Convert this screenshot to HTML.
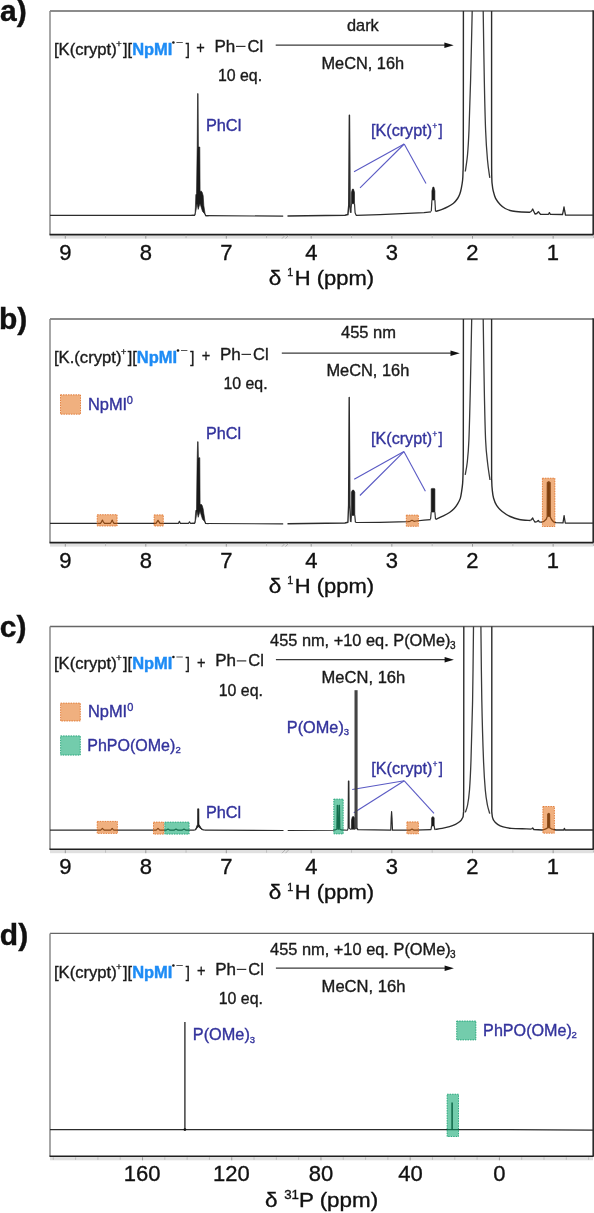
<!DOCTYPE html>
<html><head><meta charset="utf-8"><style>
html,body{margin:0;padding:0;background:#fff;width:594px;height:1213px;overflow:hidden}
svg{display:block;will-change:transform;filter:blur(0.4px)}
text{font-family:"Liberation Sans", sans-serif}
</style></head><body>
<svg width="594" height="1213" viewBox="0 0 594 1213">
<rect width="594" height="1213" fill="#fff"/>
<text x="0.10" y="20.80" font-size="30" fill="#111" font-weight="bold" stroke="#111" stroke-width="0.4">a)</text>
<line x1="50.00" y1="11.00" x2="593.00" y2="11.00" stroke="#666" stroke-width="1.4" />
<line x1="50.00" y1="11.00" x2="50.00" y2="234.60" stroke="#8a8a8a" stroke-width="1.5" />
<line x1="593.30" y1="10.30" x2="593.30" y2="234.60" stroke="#2a2a2a" stroke-width="1.8" />
<rect x="50" y="235.40" width="543" height="3.2" fill="#e0e0e0"/>
<line x1="49.50" y1="234.60" x2="593.70" y2="234.60" stroke="#1f1f1f" stroke-width="1.6" />
<line x1="65.30" y1="235.60" x2="65.30" y2="238.60" stroke="#999" stroke-width="1" />
<line x1="145.80" y1="235.60" x2="145.80" y2="238.60" stroke="#999" stroke-width="1" />
<line x1="226.30" y1="235.60" x2="226.30" y2="238.60" stroke="#999" stroke-width="1" />
<line x1="311.20" y1="235.60" x2="311.20" y2="238.60" stroke="#999" stroke-width="1" />
<line x1="391.85" y1="235.60" x2="391.85" y2="238.60" stroke="#999" stroke-width="1" />
<line x1="472.50" y1="235.60" x2="472.50" y2="238.60" stroke="#999" stroke-width="1" />
<line x1="553.15" y1="235.60" x2="553.15" y2="238.60" stroke="#999" stroke-width="1" />
<line x1="105.55" y1="235.60" x2="105.55" y2="238.10" stroke="#b8b8b8" stroke-width="0.9" />
<line x1="186.05" y1="235.60" x2="186.05" y2="238.10" stroke="#b8b8b8" stroke-width="0.9" />
<line x1="266.55" y1="235.60" x2="266.55" y2="238.10" stroke="#b8b8b8" stroke-width="0.9" />
<line x1="351.52" y1="235.60" x2="351.52" y2="238.10" stroke="#b8b8b8" stroke-width="0.9" />
<line x1="432.18" y1="235.60" x2="432.18" y2="238.10" stroke="#b8b8b8" stroke-width="0.9" />
<line x1="512.83" y1="235.60" x2="512.83" y2="238.10" stroke="#b8b8b8" stroke-width="0.9" />
<line x1="593.48" y1="235.60" x2="593.48" y2="238.10" stroke="#b8b8b8" stroke-width="0.9" />
<line x1="282.00" y1="238.60" x2="285.00" y2="235.40" stroke="#aaa" stroke-width="0.9" />
<line x1="285.50" y1="238.60" x2="288.50" y2="235.40" stroke="#aaa" stroke-width="0.9" />
<text x="59.14" y="259.60" font-size="22" fill="#111" stroke="#111" stroke-width="0.35">9</text>
<text x="139.75" y="259.60" font-size="22" fill="#111" stroke="#111" stroke-width="0.35">8</text>
<text x="220.14" y="259.60" font-size="22" fill="#111" stroke="#111" stroke-width="0.35">7</text>
<text x="305.15" y="259.60" font-size="22" fill="#111" stroke="#111" stroke-width="0.35">4</text>
<text x="385.80" y="259.60" font-size="22" fill="#111" stroke="#111" stroke-width="0.35">3</text>
<text x="466.34" y="259.60" font-size="22" fill="#111" stroke="#111" stroke-width="0.35">2</text>
<text x="546.66" y="259.60" font-size="22" fill="#111" stroke="#111" stroke-width="0.35">1</text>
<text transform="translate(268.70,284.60) scale(1.1566,1)" font-size="19.5" fill="#111" stroke="#111" stroke-width="0.35">δ</text>
<text transform="translate(287.34,276.10) scale(0.9725,1)" font-size="11" fill="#111" stroke="#111" stroke-width="0.35">1</text>
<text transform="translate(294.74,284.60) scale(1.1261,1)" font-size="19.5" fill="#111" stroke="#111" stroke-width="0.35">H (ppm)</text>
<text transform="translate(53.94,54.70) scale(1.0394,1)" font-size="16" fill="#1a1a1a" stroke="#1a1a1a" stroke-width="0.35">[K(crypt)</text>
<text transform="translate(116.34,46.91) scale(0.9649,1)" font-size="9.5" fill="#1a1a1a" stroke="#1a1a1a" stroke-width="0.35">+</text>
<text transform="translate(123.04,54.70) scale(1.0185,1)" font-size="16" fill="#1a1a1a" stroke="#1a1a1a" stroke-width="0.35">][</text>
<text transform="translate(132.15,54.70) scale(1.0308,1)" font-size="16" fill="#1e8cf5" font-weight="bold" stroke="#1e8cf5" stroke-width="0.4">NpMI</text>
<circle cx="173.40" cy="42.50" r="1.3" fill="#1a1a1a"/>
<line x1="176.40" y1="42.50" x2="182.80" y2="42.50" stroke="#555" stroke-width="1.0" />
<text transform="translate(185.75,54.70) scale(0.9375,1)" font-size="16" fill="#1a1a1a" stroke="#1a1a1a" stroke-width="0.35">]</text>
<text transform="translate(196.27,53.30) scale(0.9115,1)" font-size="16" fill="#1a1a1a" stroke="#1a1a1a" stroke-width="0.35">+</text>
<text transform="translate(214.44,51.90) scale(1.0648,1)" font-size="16" fill="#1a1a1a" stroke="#1a1a1a" stroke-width="0.35">Ph</text>
<line x1="236.00" y1="46.40" x2="245.50" y2="46.40" stroke="#333" stroke-width="1.2" />
<text transform="translate(247.47,51.90) scale(1.0316,1)" font-size="16" fill="#1a1a1a" stroke="#1a1a1a" stroke-width="0.35">Cl</text>
<text transform="translate(217.93,81.30) scale(0.9938,1)" font-size="16" fill="#1a1a1a" stroke="#1a1a1a" stroke-width="0.35">10 eq.</text>
<line x1="275.70" y1="45.20" x2="445.70" y2="45.20" stroke="#3a3a3a" stroke-width="1.3" />
<path d="M453.70,45.20 L444.40,42.50 L444.40,47.90 Z" fill="#111"/>
<text transform="translate(347.05,31.20) scale(1.0197,1)" font-size="16" fill="#1a1a1a" stroke="#1a1a1a" stroke-width="0.35">dark</text>
<text transform="translate(321.49,68.70) scale(1.0209,1)" font-size="16" fill="#1a1a1a" stroke="#1a1a1a" stroke-width="0.35">MeCN, 16h</text>
<text transform="translate(205.89,131.00) scale(1.0210,1)" font-size="16" fill="#33339c" stroke="#33339c" stroke-width="0.35">PhCl</text>
<text transform="translate(370.97,136.20) scale(1.0120,1)" font-size="16" fill="#33339c" stroke="#33339c" stroke-width="0.35">[K(crypt)</text>
<text transform="translate(432.40,128.83) scale(0.9314,1)" font-size="8.5" fill="#33339c" stroke="#33339c" stroke-width="0.35">+</text>
<text transform="translate(438.55,136.20) scale(0.9375,1)" font-size="16" fill="#33339c" stroke="#33339c" stroke-width="0.35">]</text>
<line x1="404.20" y1="144.00" x2="354.00" y2="171.80" stroke="#5a5ac4" stroke-width="1.1" />
<line x1="404.20" y1="144.00" x2="360.00" y2="187.80" stroke="#5a5ac4" stroke-width="1.1" />
<line x1="404.20" y1="144.00" x2="426.00" y2="183.50" stroke="#5a5ac4" stroke-width="1.1" />
<polyline points="50.00,215.40 194.60,215.40" fill="none" stroke="#2c2c2c" stroke-width="1.2" stroke-linejoin="round" />
<polygon points="195.00,214.40 195.40,207.40 195.80,194.80 196.50,193.80 197.10,151.00 197.20,147.00 197.60,93.60 198.10,93.60 198.40,147.00 199.80,147.00 200.10,191.80 201.00,190.80 202.20,192.30 203.20,195.80 203.80,205.40 205.20,214.40 202.50,211.40 200.00,203.40 198.20,209.40 197.00,203.40 196.00,210.40" fill="#1a1a1a" stroke="#1a1a1a" stroke-width="0.6" stroke-linejoin="round"/>
<polyline points="191.60,215.40 194.60,215.40 195.20,213.90" fill="none" stroke="#2c2c2c" stroke-width="1.2" stroke-linejoin="round" />
<polyline points="205.00,213.90 205.60,215.60 208.60,215.70" fill="none" stroke="#2c2c2c" stroke-width="1.2" stroke-linejoin="round" />
<polyline points="205.60,215.60 283.20,216.20" fill="none" stroke="#2c2c2c" stroke-width="1.2" stroke-linejoin="round" />
<polyline points="287.50,216.00 345.00,215.30 347.90,214.60 348.80,205.00 349.40,115.30 350.00,205.00 350.60,212.50" fill="none" stroke="#2c2c2c" stroke-width="1.5" stroke-linejoin="round" />
<polygon points="351.40,203.70 351.40,192.50 352.45,189.10 353.45,189.10 354.50,192.50 354.50,203.70" fill="#1a1a1a" stroke="#1a1a1a" stroke-width="0.6" stroke-linejoin="round"/>
<polyline points="350.80,213.00 351.40,203.70" fill="none" stroke="#333" stroke-width="1.2" stroke-linejoin="round" />
<polyline points="355.10,213.00 354.50,203.70" fill="none" stroke="#333" stroke-width="1.2" stroke-linejoin="round" />
<polyline points="355.10,213.00 356.20,215.30 380.00,214.60 424.00,212.60 431.00,211.80" fill="none" stroke="#2c2c2c" stroke-width="1.2" stroke-linejoin="round" />
<polygon points="431.90,200.10 431.90,190.90 432.90,187.10 433.90,187.10 434.90,190.90 434.90,200.10" fill="#1a1a1a" stroke="#1a1a1a" stroke-width="0.6" stroke-linejoin="round"/>
<polyline points="431.30,211.40 431.90,200.10" fill="none" stroke="#333" stroke-width="1.2" stroke-linejoin="round" />
<polyline points="435.50,211.40 434.90,200.10" fill="none" stroke="#333" stroke-width="1.2" stroke-linejoin="round" />
<polyline points="435.50,211.40 436.00,211.30" fill="none" stroke="#2c2c2c" stroke-width="1.3" stroke-linejoin="round" />
<path d="M436.00,211.30 C437.02,210.97 440.08,210.08 442.10,209.30 C444.12,208.52 446.20,207.62 448.10,206.60 C450.00,205.58 451.92,204.55 453.50,203.20 C455.08,201.85 456.53,200.07 457.60,198.50 C458.67,196.93 459.28,195.48 459.90,193.80 C460.52,192.12 460.85,190.65 461.30,188.40 C461.75,186.15 462.32,183.00 462.60,180.30 C462.88,177.60 462.88,177.25 463.00,172.20 C463.12,167.15 463.23,176.87 463.30,150.00 C463.37,123.13 463.38,34.17 463.40,11.00" fill="none" stroke="#2c2c2c" stroke-width="1.4" stroke-linejoin="round"/>
<path d="M472.20,11.00 C471.93,22.50 471.13,60.17 470.60,80.00 C470.07,99.83 469.52,117.50 469.00,130.00 C468.48,142.50 468.12,148.08 467.50,155.00 C466.88,161.92 465.67,168.75 465.30,171.50" fill="none" stroke="#3a3a3a" stroke-width="1.3" stroke-linejoin="round"/>
<path d="M483.20,11.00 C483.38,22.50 483.90,60.17 484.30,80.00 C484.70,99.83 485.07,116.67 485.60,130.00 C486.13,143.33 486.80,152.03 487.50,160.00 C488.20,167.97 489.42,174.83 489.80,177.80" fill="none" stroke="#3a3a3a" stroke-width="1.3" stroke-linejoin="round"/>
<path d="M491.60,11.00 C491.60,34.17 491.57,122.17 491.60,150.00 C491.63,177.83 491.68,172.17 491.80,178.00 C491.92,183.83 492.08,182.95 492.30,185.00 C492.52,187.05 492.55,188.07 493.10,190.30 C493.65,192.53 494.43,196.05 495.60,198.40 C496.77,200.75 498.50,202.72 500.10,204.40 C501.70,206.08 503.17,207.40 505.20,208.50 C507.23,209.60 509.60,210.42 512.30,211.00 C515.00,211.58 518.38,211.80 521.40,212.00 C524.42,212.20 528.90,212.17 530.40,212.20" fill="none" stroke="#2c2c2c" stroke-width="1.4" stroke-linejoin="round"/>
<polyline points="530.40,212.20 531.60,210.80 532.70,209.00 533.60,211.00 535.00,214.00 536.80,213.50 537.70,212.30 538.50,211.70 539.30,213.00 540.50,214.30 548.50,214.30 549.40,212.60 550.30,214.30 562.50,214.50 563.40,210.50 564.00,206.90 564.60,210.50 565.50,215.00 593.00,215.10" fill="none" stroke="#2c2c2c" stroke-width="1.3" stroke-linejoin="round" />
<text x="-1.10" y="328.90" font-size="30" fill="#111" font-weight="bold" stroke="#111" stroke-width="0.4">b)</text>
<line x1="50.00" y1="319.00" x2="593.00" y2="319.00" stroke="#666" stroke-width="1.4" />
<line x1="50.00" y1="319.00" x2="50.00" y2="542.60" stroke="#8a8a8a" stroke-width="1.5" />
<line x1="593.30" y1="318.30" x2="593.30" y2="542.60" stroke="#2a2a2a" stroke-width="1.8" />
<rect x="50" y="543.40" width="543" height="3.2" fill="#e0e0e0"/>
<line x1="49.50" y1="542.60" x2="593.70" y2="542.60" stroke="#1f1f1f" stroke-width="1.6" />
<line x1="65.30" y1="543.60" x2="65.30" y2="546.60" stroke="#999" stroke-width="1" />
<line x1="145.80" y1="543.60" x2="145.80" y2="546.60" stroke="#999" stroke-width="1" />
<line x1="226.30" y1="543.60" x2="226.30" y2="546.60" stroke="#999" stroke-width="1" />
<line x1="311.20" y1="543.60" x2="311.20" y2="546.60" stroke="#999" stroke-width="1" />
<line x1="391.85" y1="543.60" x2="391.85" y2="546.60" stroke="#999" stroke-width="1" />
<line x1="472.50" y1="543.60" x2="472.50" y2="546.60" stroke="#999" stroke-width="1" />
<line x1="553.15" y1="543.60" x2="553.15" y2="546.60" stroke="#999" stroke-width="1" />
<line x1="105.55" y1="543.60" x2="105.55" y2="546.10" stroke="#b8b8b8" stroke-width="0.9" />
<line x1="186.05" y1="543.60" x2="186.05" y2="546.10" stroke="#b8b8b8" stroke-width="0.9" />
<line x1="266.55" y1="543.60" x2="266.55" y2="546.10" stroke="#b8b8b8" stroke-width="0.9" />
<line x1="351.52" y1="543.60" x2="351.52" y2="546.10" stroke="#b8b8b8" stroke-width="0.9" />
<line x1="432.18" y1="543.60" x2="432.18" y2="546.10" stroke="#b8b8b8" stroke-width="0.9" />
<line x1="512.83" y1="543.60" x2="512.83" y2="546.10" stroke="#b8b8b8" stroke-width="0.9" />
<line x1="593.48" y1="543.60" x2="593.48" y2="546.10" stroke="#b8b8b8" stroke-width="0.9" />
<line x1="282.00" y1="546.60" x2="285.00" y2="543.40" stroke="#aaa" stroke-width="0.9" />
<line x1="285.50" y1="546.60" x2="288.50" y2="543.40" stroke="#aaa" stroke-width="0.9" />
<text x="59.14" y="567.60" font-size="22" fill="#111" stroke="#111" stroke-width="0.35">9</text>
<text x="139.75" y="567.60" font-size="22" fill="#111" stroke="#111" stroke-width="0.35">8</text>
<text x="220.14" y="567.60" font-size="22" fill="#111" stroke="#111" stroke-width="0.35">7</text>
<text x="305.15" y="567.60" font-size="22" fill="#111" stroke="#111" stroke-width="0.35">4</text>
<text x="385.80" y="567.60" font-size="22" fill="#111" stroke="#111" stroke-width="0.35">3</text>
<text x="466.34" y="567.60" font-size="22" fill="#111" stroke="#111" stroke-width="0.35">2</text>
<text x="546.66" y="567.60" font-size="22" fill="#111" stroke="#111" stroke-width="0.35">1</text>
<text transform="translate(268.70,592.60) scale(1.1566,1)" font-size="19.5" fill="#111" stroke="#111" stroke-width="0.35">δ</text>
<text transform="translate(287.34,584.10) scale(0.9725,1)" font-size="11" fill="#111" stroke="#111" stroke-width="0.35">1</text>
<text transform="translate(294.74,592.60) scale(1.1261,1)" font-size="19.5" fill="#111" stroke="#111" stroke-width="0.35">H (ppm)</text>
<text transform="translate(53.93,362.70) scale(1.0411,1)" font-size="16" fill="#1a1a1a" stroke="#1a1a1a" stroke-width="0.35">[K.(crypt)</text>
<text transform="translate(120.94,354.91) scale(0.9649,1)" font-size="9.5" fill="#1a1a1a" stroke="#1a1a1a" stroke-width="0.35">+</text>
<text transform="translate(127.64,362.70) scale(1.0185,1)" font-size="16" fill="#1a1a1a" stroke="#1a1a1a" stroke-width="0.35">][</text>
<text transform="translate(136.75,362.70) scale(1.0308,1)" font-size="16" fill="#1e8cf5" font-weight="bold" stroke="#1e8cf5" stroke-width="0.4">NpMI</text>
<circle cx="178.00" cy="350.50" r="1.3" fill="#1a1a1a"/>
<line x1="181.00" y1="350.50" x2="187.40" y2="350.50" stroke="#555" stroke-width="1.0" />
<text transform="translate(190.35,362.70) scale(0.9375,1)" font-size="16" fill="#1a1a1a" stroke="#1a1a1a" stroke-width="0.35">]</text>
<text transform="translate(201.77,361.30) scale(0.9115,1)" font-size="16" fill="#1a1a1a" stroke="#1a1a1a" stroke-width="0.35">+</text>
<text transform="translate(219.94,359.90) scale(1.0648,1)" font-size="16" fill="#1a1a1a" stroke="#1a1a1a" stroke-width="0.35">Ph</text>
<line x1="241.50" y1="354.40" x2="251.00" y2="354.40" stroke="#333" stroke-width="1.2" />
<text transform="translate(252.97,359.90) scale(1.0316,1)" font-size="16" fill="#1a1a1a" stroke="#1a1a1a" stroke-width="0.35">Cl</text>
<text transform="translate(223.43,389.30) scale(0.9938,1)" font-size="16" fill="#1a1a1a" stroke="#1a1a1a" stroke-width="0.35">10 eq.</text>
<line x1="281.80" y1="353.20" x2="451.80" y2="353.20" stroke="#3a3a3a" stroke-width="1.3" />
<path d="M459.80,353.20 L450.50,350.50 L450.50,355.90 Z" fill="#111"/>
<text transform="translate(340.97,337.70) scale(1.0327,1)" font-size="16" fill="#1a1a1a" stroke="#1a1a1a" stroke-width="0.35">455 nm</text>
<text transform="translate(326.39,376.30) scale(1.0260,1)" font-size="16" fill="#1a1a1a" stroke="#1a1a1a" stroke-width="0.35">MeCN, 16h</text>
<text transform="translate(87.88,410.00) scale(1.0276,1)" font-size="16" fill="#33339c" stroke="#33339c" stroke-width="0.35">NpMI</text>
<text x="126.66" y="404.10" font-size="11" fill="#33339c" stroke="#33339c" stroke-width="0.35">0</text>
<text transform="translate(206.00,438.70) scale(1.0118,1)" font-size="16" fill="#33339c" stroke="#33339c" stroke-width="0.35">PhCl</text>
<text transform="translate(370.97,444.20) scale(1.0120,1)" font-size="16" fill="#33339c" stroke="#33339c" stroke-width="0.35">[K(crypt)</text>
<text transform="translate(432.40,436.83) scale(0.9314,1)" font-size="8.5" fill="#33339c" stroke="#33339c" stroke-width="0.35">+</text>
<text transform="translate(438.55,444.20) scale(0.9375,1)" font-size="16" fill="#33339c" stroke="#33339c" stroke-width="0.35">]</text>
<line x1="403.90" y1="451.60" x2="354.20" y2="479.30" stroke="#5a5ac4" stroke-width="1.1" />
<line x1="403.90" y1="451.60" x2="359.90" y2="495.50" stroke="#5a5ac4" stroke-width="1.1" />
<line x1="403.90" y1="451.60" x2="425.40" y2="491.20" stroke="#5a5ac4" stroke-width="1.1" />
<polyline points="50.00,523.30 100.50,523.30 101.50,521.80 102.40,520.10 103.30,521.80 104.50,523.30 110.50,523.30 111.40,521.80 112.20,520.10 113.00,521.80 114.00,523.30 156.00,523.30 157.00,521.80 158.00,520.30 159.00,521.80 160.00,523.30 178.50,523.30 179.40,521.30 180.30,523.30 188.60,523.30 189.50,521.80 190.40,523.30 194.60,523.30" fill="none" stroke="#2c2c2c" stroke-width="1.2" stroke-linejoin="round" />
<polygon points="195.00,522.30 195.40,515.30 195.80,510.50 196.50,509.50 197.10,461.70 197.20,457.70 197.60,441.70 198.10,441.70 198.40,457.70 199.80,457.70 200.10,505.00 201.00,504.00 202.20,505.50 203.20,509.00 203.80,513.30 205.20,522.30 202.50,519.30 200.00,511.30 198.20,517.30 197.00,511.30 196.00,518.30" fill="#1a1a1a" stroke="#1a1a1a" stroke-width="0.6" stroke-linejoin="round"/>
<polyline points="191.60,523.30 194.60,523.30 195.20,521.80" fill="none" stroke="#2c2c2c" stroke-width="1.2" stroke-linejoin="round" />
<polyline points="205.00,521.80 205.60,523.50 208.60,523.60" fill="none" stroke="#2c2c2c" stroke-width="1.2" stroke-linejoin="round" />
<polyline points="205.60,523.50 283.20,523.90" fill="none" stroke="#2c2c2c" stroke-width="1.2" stroke-linejoin="round" />
<polyline points="287.50,523.80 345.00,523.00 347.90,522.30 348.60,505.00 349.20,397.40 349.80,505.00 350.60,521.80" fill="none" stroke="#2c2c2c" stroke-width="1.4" stroke-linejoin="round" />
<polygon points="351.40,515.40 351.40,492.10 352.60,490.00 353.60,490.00 354.80,492.10 354.80,515.40" fill="#1a1a1a" stroke="#1a1a1a" stroke-width="0.6" stroke-linejoin="round"/>
<polyline points="350.80,522.10 351.40,515.40" fill="none" stroke="#333" stroke-width="1.2" stroke-linejoin="round" />
<polyline points="355.40,522.10 354.80,515.40" fill="none" stroke="#333" stroke-width="1.2" stroke-linejoin="round" />
<polyline points="355.40,522.10 356.20,522.50 380.00,522.30 408.00,521.60 410.00,521.30 412.00,520.30 414.00,521.30 416.00,521.00 424.00,520.20 430.70,519.60" fill="none" stroke="#2c2c2c" stroke-width="1.2" stroke-linejoin="round" />
<polygon points="431.20,512.10 431.20,488.80 432.55,488.40 433.55,488.40 434.90,488.80 434.90,512.10" fill="#1a1a1a" stroke="#1a1a1a" stroke-width="0.6" stroke-linejoin="round"/>
<polyline points="430.60,519.00 431.20,512.10" fill="none" stroke="#333" stroke-width="1.2" stroke-linejoin="round" />
<polyline points="435.50,519.00 434.90,512.10" fill="none" stroke="#333" stroke-width="1.2" stroke-linejoin="round" />
<polyline points="435.40,519.30 435.80,519.30" fill="none" stroke="#2c2c2c" stroke-width="1.3" stroke-linejoin="round" />
<path d="M435.80,519.30 C437.07,518.73 441.12,517.03 443.40,515.90 C445.68,514.77 447.70,513.73 449.50,512.50 C451.30,511.27 452.85,509.95 454.20,508.50 C455.55,507.05 456.58,505.48 457.60,503.80 C458.62,502.12 459.63,500.43 460.30,498.40 C460.97,496.37 461.22,494.07 461.60,491.60 C461.98,489.13 462.37,486.40 462.60,483.60 C462.83,480.80 462.88,480.40 463.00,474.80 C463.12,469.20 463.23,475.97 463.30,450.00 C463.37,424.03 463.38,340.83 463.40,319.00" fill="none" stroke="#2c2c2c" stroke-width="1.4" stroke-linejoin="round"/>
<path d="M471.70,319.00 C471.47,330.83 470.77,369.83 470.30,390.00 C469.83,410.17 469.40,428.00 468.90,440.00 C468.40,452.00 467.92,456.18 467.30,462.00 C466.68,467.82 465.55,472.75 465.20,474.90" fill="none" stroke="#3a3a3a" stroke-width="1.3" stroke-linejoin="round"/>
<path d="M483.20,319.00 C483.38,330.83 483.90,369.83 484.30,390.00 C484.70,410.17 485.05,427.83 485.60,440.00 C486.15,452.17 486.87,456.33 487.60,463.00 C488.33,469.67 489.60,477.17 490.00,480.00" fill="none" stroke="#3a3a3a" stroke-width="1.3" stroke-linejoin="round"/>
<path d="M491.60,319.00 C491.60,342.50 491.58,433.13 491.60,460.00 C491.62,486.87 491.58,475.15 491.70,480.20 C491.82,485.25 491.98,487.28 492.30,490.30 C492.62,493.32 492.88,495.78 493.60,498.30 C494.32,500.82 495.17,503.20 496.60,505.40 C498.03,507.60 499.93,509.65 502.20,511.50 C504.47,513.35 507.35,515.17 510.20,516.50 C513.05,517.83 515.93,518.83 519.30,519.50 C522.67,520.17 528.55,520.33 530.40,520.50" fill="none" stroke="#2c2c2c" stroke-width="1.4" stroke-linejoin="round"/>
<polygon points="547.30,516.50 547.40,482.50 548.70,481.90 550.00,482.50 550.10,516.50" fill="#1a1a1a" stroke="#1a1a1a" stroke-width="0.6" stroke-linejoin="round"/>
<polyline points="530.40,520.50 531.60,519.50 532.70,518.00 533.60,520.00 535.00,522.10 537.00,521.60 538.30,520.40 539.30,521.80 541.50,522.20 544.00,521.30 546.20,519.30 547.30,516.50 547.40,482.50 548.70,481.90 550.00,482.50 550.10,516.50 551.50,519.50 553.50,521.80 556.00,522.60 563.00,522.80 563.60,519.00 564.10,515.60 564.60,519.00 565.30,523.00 593.00,523.20" fill="none" stroke="#2c2c2c" stroke-width="1.3" stroke-linejoin="round" />
<text x="-0.20" y="636.90" font-size="30" fill="#111" font-weight="bold" stroke="#111" stroke-width="0.4">c)</text>
<line x1="50.00" y1="626.50" x2="593.00" y2="626.50" stroke="#666" stroke-width="1.4" />
<line x1="50.00" y1="626.50" x2="50.00" y2="849.20" stroke="#8a8a8a" stroke-width="1.5" />
<line x1="593.30" y1="625.80" x2="593.30" y2="849.20" stroke="#2a2a2a" stroke-width="1.8" />
<rect x="50" y="850.00" width="543" height="3.2" fill="#e0e0e0"/>
<line x1="49.50" y1="849.20" x2="593.70" y2="849.20" stroke="#1f1f1f" stroke-width="1.6" />
<line x1="65.30" y1="850.20" x2="65.30" y2="853.20" stroke="#999" stroke-width="1" />
<line x1="145.80" y1="850.20" x2="145.80" y2="853.20" stroke="#999" stroke-width="1" />
<line x1="226.30" y1="850.20" x2="226.30" y2="853.20" stroke="#999" stroke-width="1" />
<line x1="311.20" y1="850.20" x2="311.20" y2="853.20" stroke="#999" stroke-width="1" />
<line x1="391.85" y1="850.20" x2="391.85" y2="853.20" stroke="#999" stroke-width="1" />
<line x1="472.50" y1="850.20" x2="472.50" y2="853.20" stroke="#999" stroke-width="1" />
<line x1="553.15" y1="850.20" x2="553.15" y2="853.20" stroke="#999" stroke-width="1" />
<line x1="105.55" y1="850.20" x2="105.55" y2="852.70" stroke="#b8b8b8" stroke-width="0.9" />
<line x1="186.05" y1="850.20" x2="186.05" y2="852.70" stroke="#b8b8b8" stroke-width="0.9" />
<line x1="266.55" y1="850.20" x2="266.55" y2="852.70" stroke="#b8b8b8" stroke-width="0.9" />
<line x1="351.52" y1="850.20" x2="351.52" y2="852.70" stroke="#b8b8b8" stroke-width="0.9" />
<line x1="432.18" y1="850.20" x2="432.18" y2="852.70" stroke="#b8b8b8" stroke-width="0.9" />
<line x1="512.83" y1="850.20" x2="512.83" y2="852.70" stroke="#b8b8b8" stroke-width="0.9" />
<line x1="593.48" y1="850.20" x2="593.48" y2="852.70" stroke="#b8b8b8" stroke-width="0.9" />
<line x1="282.00" y1="853.20" x2="285.00" y2="850.00" stroke="#aaa" stroke-width="0.9" />
<line x1="285.50" y1="853.20" x2="288.50" y2="850.00" stroke="#aaa" stroke-width="0.9" />
<text x="59.14" y="874.20" font-size="22" fill="#111" stroke="#111" stroke-width="0.35">9</text>
<text x="139.75" y="874.20" font-size="22" fill="#111" stroke="#111" stroke-width="0.35">8</text>
<text x="220.14" y="874.20" font-size="22" fill="#111" stroke="#111" stroke-width="0.35">7</text>
<text x="305.15" y="874.20" font-size="22" fill="#111" stroke="#111" stroke-width="0.35">4</text>
<text x="385.80" y="874.20" font-size="22" fill="#111" stroke="#111" stroke-width="0.35">3</text>
<text x="466.34" y="874.20" font-size="22" fill="#111" stroke="#111" stroke-width="0.35">2</text>
<text x="546.66" y="874.20" font-size="22" fill="#111" stroke="#111" stroke-width="0.35">1</text>
<text transform="translate(268.70,899.20) scale(1.1566,1)" font-size="19.5" fill="#111" stroke="#111" stroke-width="0.35">δ</text>
<text transform="translate(287.34,890.70) scale(0.9725,1)" font-size="11" fill="#111" stroke="#111" stroke-width="0.35">1</text>
<text transform="translate(294.74,899.20) scale(1.1261,1)" font-size="19.5" fill="#111" stroke="#111" stroke-width="0.35">H (ppm)</text>
<text transform="translate(53.94,669.20) scale(1.0394,1)" font-size="16" fill="#1a1a1a" stroke="#1a1a1a" stroke-width="0.35">[K(crypt)</text>
<text transform="translate(116.34,661.41) scale(0.9649,1)" font-size="9.5" fill="#1a1a1a" stroke="#1a1a1a" stroke-width="0.35">+</text>
<text transform="translate(123.04,669.20) scale(1.0185,1)" font-size="16" fill="#1a1a1a" stroke="#1a1a1a" stroke-width="0.35">][</text>
<text transform="translate(132.15,669.20) scale(1.0308,1)" font-size="16" fill="#1e8cf5" font-weight="bold" stroke="#1e8cf5" stroke-width="0.4">NpMI</text>
<circle cx="173.40" cy="657.00" r="1.3" fill="#1a1a1a"/>
<line x1="176.40" y1="657.00" x2="182.80" y2="657.00" stroke="#555" stroke-width="1.0" />
<text transform="translate(185.75,669.20) scale(0.9375,1)" font-size="16" fill="#1a1a1a" stroke="#1a1a1a" stroke-width="0.35">]</text>
<text transform="translate(197.07,667.80) scale(0.9115,1)" font-size="16" fill="#1a1a1a" stroke="#1a1a1a" stroke-width="0.35">+</text>
<text transform="translate(215.24,666.40) scale(1.0648,1)" font-size="16" fill="#1a1a1a" stroke="#1a1a1a" stroke-width="0.35">Ph</text>
<line x1="236.80" y1="660.90" x2="246.30" y2="660.90" stroke="#333" stroke-width="1.2" />
<text transform="translate(248.27,666.40) scale(1.0316,1)" font-size="16" fill="#1a1a1a" stroke="#1a1a1a" stroke-width="0.35">Cl</text>
<text transform="translate(218.73,695.80) scale(0.9938,1)" font-size="16" fill="#1a1a1a" stroke="#1a1a1a" stroke-width="0.35">10 eq.</text>
<line x1="275.90" y1="659.70" x2="445.90" y2="659.70" stroke="#3a3a3a" stroke-width="1.3" />
<path d="M453.90,659.70 L444.60,657.00 L444.60,662.40 Z" fill="#111"/>
<text transform="translate(270.07,646.10) scale(1.0228,1)" font-size="16" fill="#1a1a1a" stroke="#1a1a1a" stroke-width="0.35">455 nm, +10 eq. P(OMe)</text>
<text x="449.90" y="648.80" font-size="10" fill="#1a1a1a" stroke="#1a1a1a" stroke-width="0.35">3</text>
<text transform="translate(321.58,682.80) scale(1.0349,1)" font-size="16" fill="#1a1a1a" stroke="#1a1a1a" stroke-width="0.35">MeCN, 16h</text>
<text transform="translate(87.88,717.00) scale(1.0276,1)" font-size="16" fill="#33339c" stroke="#33339c" stroke-width="0.35">NpMI</text>
<text x="127.16" y="711.40" font-size="11" fill="#33339c" stroke="#33339c" stroke-width="0.35">0</text>
<text x="87.22" y="750.50" font-size="16" fill="#33339c" stroke="#33339c" stroke-width="0.35">PhPO(OMe)</text>
<text x="175.53" y="752.55" font-size="9.5" fill="#33339c" stroke="#33339c" stroke-width="0.35">2</text>
<text transform="translate(286.80,732.90) scale(1.0193,1)" font-size="16" fill="#33339c" stroke="#33339c" stroke-width="0.35">P(OMe)</text>
<text x="343.72" y="735.25" font-size="9.5" fill="#33339c" stroke="#33339c" stroke-width="0.35">3</text>
<text transform="translate(205.90,818.40) scale(1.0179,1)" font-size="16" fill="#33339c" stroke="#33339c" stroke-width="0.35">PhCl</text>
<text transform="translate(371.27,774.30) scale(1.0120,1)" font-size="16" fill="#33339c" stroke="#33339c" stroke-width="0.35">[K(crypt)</text>
<text transform="translate(432.70,766.93) scale(0.9314,1)" font-size="8.5" fill="#33339c" stroke="#33339c" stroke-width="0.35">+</text>
<text transform="translate(438.85,774.30) scale(0.9375,1)" font-size="16" fill="#33339c" stroke="#33339c" stroke-width="0.35">]</text>
<line x1="404.30" y1="780.80" x2="352.20" y2="789.50" stroke="#5a5ac4" stroke-width="1.1" />
<line x1="404.30" y1="780.80" x2="353.80" y2="812.70" stroke="#5a5ac4" stroke-width="1.1" />
<line x1="404.30" y1="780.80" x2="434.00" y2="813.30" stroke="#5a5ac4" stroke-width="1.1" />
<polyline points="50.00,830.20 100.50,830.20 101.50,829.40 102.40,828.40 103.30,829.40 104.50,830.20 110.50,830.20 111.40,829.40 112.20,828.40 113.00,829.40 114.00,830.20 156.00,830.20 157.00,829.40 158.00,828.40 159.00,829.40 160.00,830.20 166.00,830.20 168.00,829.00 170.00,830.20 174.00,830.20 176.00,829.00 178.00,830.20 182.00,830.20 184.00,829.00 186.00,830.20 194.60,830.20" fill="none" stroke="#2c2c2c" stroke-width="1.2" stroke-linejoin="round" />
<polygon points="195.50,829.70 196.60,827.20 197.50,824.20 197.60,808.80 198.90,808.80 199.00,824.20 200.30,827.20 202.00,829.70 198.30,826.70" fill="#1a1a1a" stroke="#1a1a1a" stroke-width="0.6" stroke-linejoin="round"/>
<polyline points="194.60,830.20 195.60,829.60 196.80,827.40 197.60,825.20" fill="none" stroke="#2c2c2c" stroke-width="1.2" stroke-linejoin="round" />
<polyline points="199.00,825.20 200.50,827.60 202.50,829.70 204.70,830.20" fill="none" stroke="#2c2c2c" stroke-width="1.2" stroke-linejoin="round" />
<polyline points="204.70,830.20 283.50,830.50" fill="none" stroke="#2c2c2c" stroke-width="1.2" stroke-linejoin="round" />
<polyline points="287.70,830.50 333.00,830.20 335.00,829.90 336.80,829.20 337.20,805.20 337.60,805.20 338.00,829.20 338.70,829.20 339.10,805.20 339.50,805.20 339.90,829.20 341.00,829.90 347.50,830.20 348.10,828.20 348.40,781.00 348.90,781.00 349.20,828.20 350.30,829.20 351.30,829.20" fill="none" stroke="#2c2c2c" stroke-width="1.1" stroke-linejoin="round" />
<polygon points="351.30,829.20 351.50,820.00 352.30,816.80 353.60,816.50 354.60,818.00 355.00,829.20" fill="#1a1a1a" stroke="#1a1a1a" stroke-width="0.6" stroke-linejoin="round"/>
<rect x="354.5" y="690.2" width="3.1" height="139.0" fill="#444"/>
<polyline points="357.30,828.20 357.80,829.70 390.80,830.20 391.20,818.00 391.60,811.70 392.00,818.00 392.50,830.20 410.00,830.20 412.00,829.00 414.00,830.20 431.20,829.70" fill="none" stroke="#2c2c2c" stroke-width="1.2" stroke-linejoin="round" />
<polygon points="431.60,825.90 431.60,818.00 432.40,816.80 433.40,816.80 434.20,818.00 434.20,825.90" fill="#1a1a1a" stroke="#1a1a1a" stroke-width="0.6" stroke-linejoin="round"/>
<polyline points="431.00,829.60 431.60,825.90" fill="none" stroke="#333" stroke-width="1.2" stroke-linejoin="round" />
<polyline points="434.80,829.60 434.20,825.90" fill="none" stroke="#333" stroke-width="1.2" stroke-linejoin="round" />
<polyline points="434.70,829.60 435.30,829.40" fill="none" stroke="#2c2c2c" stroke-width="1.3" stroke-linejoin="round" />
<path d="M435.30,829.40 C436.43,829.23 439.73,828.85 442.10,828.40 C444.47,827.95 447.27,827.38 449.50,826.70 C451.73,826.02 453.77,825.15 455.50,824.30 C457.23,823.45 458.77,822.60 459.90,821.60 C461.03,820.60 461.72,819.63 462.30,818.30 C462.88,816.97 463.17,818.32 463.40,813.60 C463.63,808.88 463.63,821.18 463.70,790.00 C463.77,758.82 463.78,653.75 463.80,626.50" fill="none" stroke="#2c2c2c" stroke-width="1.4" stroke-linejoin="round"/>
<path d="M473.50,626.50 C473.35,638.75 473.02,677.75 472.60,700.00 C472.18,722.25 471.52,745.00 471.00,760.00 C470.48,775.00 470.07,782.50 469.50,790.00 C468.93,797.50 468.30,801.27 467.60,805.00 C466.90,808.73 465.68,811.17 465.30,812.40" fill="none" stroke="#3a3a3a" stroke-width="1.3" stroke-linejoin="round"/>
<path d="M480.90,626.50 C481.05,638.75 481.37,677.75 481.80,700.00 C482.23,722.25 482.92,745.00 483.50,760.00 C484.08,775.00 484.65,782.50 485.30,790.00 C485.95,797.50 486.65,801.05 487.40,805.00 C488.15,808.95 489.40,812.25 489.80,813.70" fill="none" stroke="#3a3a3a" stroke-width="1.3" stroke-linejoin="round"/>
<path d="M491.80,626.50 C491.80,653.75 491.78,758.88 491.80,790.00 C491.82,821.12 491.60,808.15 491.90,813.20 C492.20,818.25 492.65,818.45 493.60,820.30 C494.55,822.15 496.00,823.20 497.60,824.30 C499.20,825.40 500.92,826.22 503.20,826.90 C505.48,827.58 507.43,828.07 511.30,828.40 C515.17,828.73 523.03,828.78 526.40,828.90 C529.77,829.02 530.65,829.07 531.50,829.10" fill="none" stroke="#2c2c2c" stroke-width="1.4" stroke-linejoin="round"/>
<polygon points="547.80,827.80 547.90,814.00 548.70,813.50 549.50,814.00 549.60,827.80" fill="#1a1a1a" stroke="#1a1a1a" stroke-width="0.6" stroke-linejoin="round"/>
<polyline points="531.50,829.10 532.70,828.00 533.80,829.50 542.00,830.00 544.50,829.30 546.30,828.60 547.80,827.80 547.90,814.00 548.70,813.50 549.50,814.00 549.60,827.80 551.30,828.80 553.50,829.50 556.00,830.00 563.80,830.00 564.40,828.30 565.00,830.00 593.00,830.00" fill="none" stroke="#2c2c2c" stroke-width="1.3" stroke-linejoin="round" />
<text x="-0.20" y="944.90" font-size="30" fill="#111" font-weight="bold" stroke="#111" stroke-width="0.4">d)</text>
<line x1="50.00" y1="933.40" x2="593.00" y2="933.40" stroke="#666" stroke-width="1.4" />
<line x1="50.00" y1="933.40" x2="50.00" y2="1156.30" stroke="#8a8a8a" stroke-width="1.5" />
<line x1="593.30" y1="932.70" x2="593.30" y2="1156.30" stroke="#2a2a2a" stroke-width="1.8" />
<rect x="50" y="1157.10" width="543" height="3.2" fill="#e0e0e0"/>
<line x1="49.50" y1="1156.30" x2="593.70" y2="1156.30" stroke="#1f1f1f" stroke-width="1.6" />
<text transform="translate(53.94,977.70) scale(1.0394,1)" font-size="16" fill="#1a1a1a" stroke="#1a1a1a" stroke-width="0.35">[K(crypt)</text>
<text transform="translate(116.34,969.91) scale(0.9649,1)" font-size="9.5" fill="#1a1a1a" stroke="#1a1a1a" stroke-width="0.35">+</text>
<text transform="translate(123.04,977.70) scale(1.0185,1)" font-size="16" fill="#1a1a1a" stroke="#1a1a1a" stroke-width="0.35">][</text>
<text transform="translate(132.15,977.70) scale(1.0308,1)" font-size="16" fill="#1e8cf5" font-weight="bold" stroke="#1e8cf5" stroke-width="0.4">NpMI</text>
<circle cx="173.40" cy="965.50" r="1.3" fill="#1a1a1a"/>
<line x1="176.40" y1="965.50" x2="182.80" y2="965.50" stroke="#555" stroke-width="1.0" />
<text transform="translate(185.75,977.70) scale(0.9375,1)" font-size="16" fill="#1a1a1a" stroke="#1a1a1a" stroke-width="0.35">]</text>
<text transform="translate(197.07,976.30) scale(0.9115,1)" font-size="16" fill="#1a1a1a" stroke="#1a1a1a" stroke-width="0.35">+</text>
<text transform="translate(215.24,974.90) scale(1.0648,1)" font-size="16" fill="#1a1a1a" stroke="#1a1a1a" stroke-width="0.35">Ph</text>
<line x1="236.80" y1="969.40" x2="246.30" y2="969.40" stroke="#333" stroke-width="1.2" />
<text transform="translate(248.27,974.90) scale(1.0316,1)" font-size="16" fill="#1a1a1a" stroke="#1a1a1a" stroke-width="0.35">Cl</text>
<text transform="translate(218.73,1004.30) scale(0.9938,1)" font-size="16" fill="#1a1a1a" stroke="#1a1a1a" stroke-width="0.35">10 eq.</text>
<line x1="275.90" y1="968.20" x2="445.90" y2="968.20" stroke="#3a3a3a" stroke-width="1.3" />
<path d="M453.90,968.20 L444.60,965.50 L444.60,970.90 Z" fill="#111"/>
<text transform="translate(270.07,955.00) scale(1.0240,1)" font-size="16" fill="#1a1a1a" stroke="#1a1a1a" stroke-width="0.35">455 nm, +10 eq. P(OMe)</text>
<text x="450.10" y="957.70" font-size="10" fill="#1a1a1a" stroke="#1a1a1a" stroke-width="0.35">3</text>
<text transform="translate(321.57,992.00) scale(1.0374,1)" font-size="16" fill="#1a1a1a" stroke="#1a1a1a" stroke-width="0.35">MeCN, 16h</text>
<line x1="142.52" y1="1157.30" x2="142.52" y2="1160.30" stroke="#999" stroke-width="1" />
<line x1="231.74" y1="1157.30" x2="231.74" y2="1160.30" stroke="#999" stroke-width="1" />
<line x1="320.96" y1="1157.30" x2="320.96" y2="1160.30" stroke="#999" stroke-width="1" />
<line x1="410.18" y1="1157.30" x2="410.18" y2="1160.30" stroke="#999" stroke-width="1" />
<line x1="499.40" y1="1157.30" x2="499.40" y2="1160.30" stroke="#999" stroke-width="1" />
<line x1="53.30" y1="1157.30" x2="53.30" y2="1159.80" stroke="#b8b8b8" stroke-width="0.9" />
<line x1="75.60" y1="1157.30" x2="75.60" y2="1159.80" stroke="#b8b8b8" stroke-width="0.9" />
<line x1="97.91" y1="1157.30" x2="97.91" y2="1159.80" stroke="#b8b8b8" stroke-width="0.9" />
<line x1="120.21" y1="1157.30" x2="120.21" y2="1159.80" stroke="#b8b8b8" stroke-width="0.9" />
<line x1="164.82" y1="1157.30" x2="164.82" y2="1159.80" stroke="#b8b8b8" stroke-width="0.9" />
<line x1="187.13" y1="1157.30" x2="187.13" y2="1159.80" stroke="#b8b8b8" stroke-width="0.9" />
<line x1="209.43" y1="1157.30" x2="209.43" y2="1159.80" stroke="#b8b8b8" stroke-width="0.9" />
<line x1="254.04" y1="1157.30" x2="254.04" y2="1159.80" stroke="#b8b8b8" stroke-width="0.9" />
<line x1="276.35" y1="1157.30" x2="276.35" y2="1159.80" stroke="#b8b8b8" stroke-width="0.9" />
<line x1="298.65" y1="1157.30" x2="298.65" y2="1159.80" stroke="#b8b8b8" stroke-width="0.9" />
<line x1="343.26" y1="1157.30" x2="343.26" y2="1159.80" stroke="#b8b8b8" stroke-width="0.9" />
<line x1="365.57" y1="1157.30" x2="365.57" y2="1159.80" stroke="#b8b8b8" stroke-width="0.9" />
<line x1="387.88" y1="1157.30" x2="387.88" y2="1159.80" stroke="#b8b8b8" stroke-width="0.9" />
<line x1="432.48" y1="1157.30" x2="432.48" y2="1159.80" stroke="#b8b8b8" stroke-width="0.9" />
<line x1="454.79" y1="1157.30" x2="454.79" y2="1159.80" stroke="#b8b8b8" stroke-width="0.9" />
<line x1="477.09" y1="1157.30" x2="477.09" y2="1159.80" stroke="#b8b8b8" stroke-width="0.9" />
<line x1="521.70" y1="1157.30" x2="521.70" y2="1159.80" stroke="#b8b8b8" stroke-width="0.9" />
<line x1="544.01" y1="1157.30" x2="544.01" y2="1159.80" stroke="#b8b8b8" stroke-width="0.9" />
<line x1="566.31" y1="1157.30" x2="566.31" y2="1159.80" stroke="#b8b8b8" stroke-width="0.9" />
<line x1="588.62" y1="1157.30" x2="588.62" y2="1159.80" stroke="#b8b8b8" stroke-width="0.9" />
<text x="123.71" y="1181.30" font-size="22" fill="#111" stroke="#111" stroke-width="0.35">160</text>
<text x="212.93" y="1181.30" font-size="22" fill="#111" stroke="#111" stroke-width="0.35">120</text>
<text x="308.75" y="1181.30" font-size="22" fill="#111" stroke="#111" stroke-width="0.35">80</text>
<text x="398.19" y="1181.30" font-size="22" fill="#111" stroke="#111" stroke-width="0.35">40</text>
<text x="493.24" y="1181.30" font-size="22" fill="#111" stroke="#111" stroke-width="0.35">0</text>
<text transform="translate(265.00,1206.90) scale(1.1566,1)" font-size="19.5" fill="#111" stroke="#111" stroke-width="0.35">δ</text>
<text transform="translate(284.17,1198.90) scale(1.0256,1)" font-size="13" fill="#111" stroke="#111" stroke-width="0.35">31</text>
<text transform="translate(298.91,1206.90) scale(1.1478,1)" font-size="19.5" fill="#111" stroke="#111" stroke-width="0.35">P (ppm)</text>
<text transform="translate(192.80,1040.30) scale(1.0193,1)" font-size="16" fill="#33339c" stroke="#33339c" stroke-width="0.35">P(OMe)</text>
<text x="249.72" y="1042.85" font-size="9.5" fill="#33339c" stroke="#33339c" stroke-width="0.35">3</text>
<text transform="translate(483.11,1036.00) scale(1.0098,1)" font-size="16" fill="#33339c" stroke="#33339c" stroke-width="0.35">PhPO(OMe)</text>
<text x="571.52" y="1038.25" font-size="9.5" fill="#33339c" stroke="#33339c" stroke-width="0.35">2</text>
<polyline points="50.00,1129.60 492.00,1129.60 593.00,1130.20" fill="none" stroke="#2c2c2c" stroke-width="1.3" stroke-linejoin="round" />
<line x1="184.90" y1="1022.10" x2="184.90" y2="1129.60" stroke="#333" stroke-width="1.4" />
<line x1="452.10" y1="1102.50" x2="452.10" y2="1129.60" stroke="#111" stroke-width="1.4" />
<circle cx="184.9" cy="1129.6" r="1.4" fill="#111"/>
<rect x="60.50" y="394.80" width="20.00" height="19.40" fill="#e16100" fill-opacity="0.5" stroke="#dc6414" stroke-opacity="0.75" stroke-width="1" stroke-dasharray="1.5,1"/>
<rect x="97.20" y="514.70" width="19.90" height="11.30" fill="#e16100" fill-opacity="0.5" stroke="#dc6414" stroke-opacity="0.75" stroke-width="1" stroke-dasharray="1.5,1"/>
<rect x="154.10" y="514.90" width="9.20" height="11.10" fill="#e16100" fill-opacity="0.5" stroke="#dc6414" stroke-opacity="0.75" stroke-width="1" stroke-dasharray="1.5,1"/>
<rect x="406.30" y="515.10" width="12.10" height="11.20" fill="#e16100" fill-opacity="0.5" stroke="#dc6414" stroke-opacity="0.75" stroke-width="1" stroke-dasharray="1.5,1"/>
<rect x="542.40" y="478.20" width="12.50" height="48.30" fill="#e16100" fill-opacity="0.5" stroke="#dc6414" stroke-opacity="0.75" stroke-width="1" stroke-dasharray="1.5,1"/>
<rect x="60.60" y="703.10" width="19.70" height="17.90" fill="#e16100" fill-opacity="0.5" stroke="#dc6414" stroke-opacity="0.75" stroke-width="1" stroke-dasharray="1.5,1"/>
<rect x="60.60" y="735.90" width="19.70" height="19.20" fill="#00a268" fill-opacity="0.55" stroke="#009664" stroke-opacity="0.75" stroke-width="1" stroke-dasharray="1.5,1"/>
<rect x="97.20" y="821.40" width="20.20" height="12.00" fill="#e16100" fill-opacity="0.5" stroke="#dc6414" stroke-opacity="0.75" stroke-width="1" stroke-dasharray="1.5,1"/>
<rect x="153.50" y="822.10" width="10.30" height="12.00" fill="#e16100" fill-opacity="0.5" stroke="#dc6414" stroke-opacity="0.75" stroke-width="1" stroke-dasharray="1.5,1"/>
<rect x="164.80" y="822.10" width="24.30" height="12.00" fill="#00a268" fill-opacity="0.55" stroke="#009664" stroke-opacity="0.75" stroke-width="1" stroke-dasharray="1.5,1"/>
<rect x="333.80" y="799.10" width="9.40" height="34.80" fill="#00a268" fill-opacity="0.55" stroke="#009664" stroke-opacity="0.75" stroke-width="1" stroke-dasharray="1.5,1"/>
<rect x="406.90" y="821.90" width="11.50" height="11.90" fill="#e16100" fill-opacity="0.5" stroke="#dc6414" stroke-opacity="0.75" stroke-width="1" stroke-dasharray="1.5,1"/>
<rect x="542.90" y="806.50" width="11.50" height="26.70" fill="#e16100" fill-opacity="0.5" stroke="#dc6414" stroke-opacity="0.75" stroke-width="1" stroke-dasharray="1.5,1"/>
<rect x="456.70" y="1021.00" width="19.20" height="18.90" fill="#00a268" fill-opacity="0.55" stroke="#009664" stroke-opacity="0.75" stroke-width="1" stroke-dasharray="1.5,1"/>
<rect x="447.10" y="1094.20" width="11.40" height="42.30" fill="#00a268" fill-opacity="0.55" stroke="#009664" stroke-opacity="0.75" stroke-width="1" stroke-dasharray="1.5,1"/>
</svg>
</body></html>
